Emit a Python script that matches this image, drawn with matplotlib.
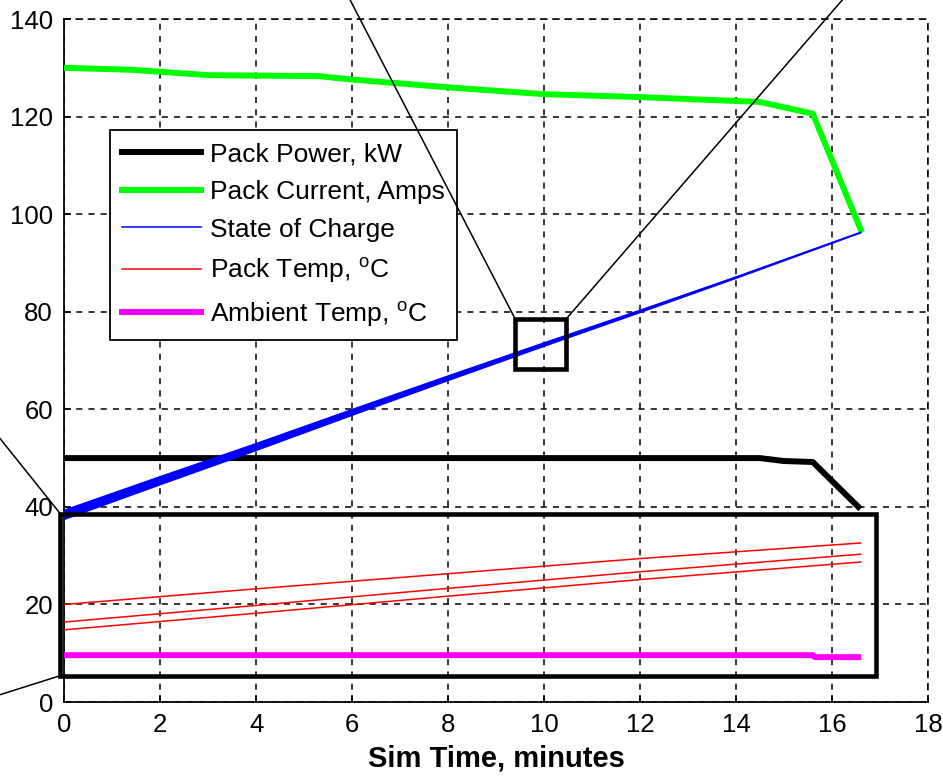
import numpy as np
import matplotlib
matplotlib.use("Agg")
import matplotlib.pyplot as plt
from matplotlib.patches import Rectangle
from matplotlib.lines import Line2D

plt.rcParams['font.family'] = ['Liberation Sans', 'DejaVu Sans']
plt.rcParams['mathtext.fontset'] = 'custom'
plt.rcParams['mathtext.rm'] = 'Liberation Sans'

# ---- data ----
power_t = [0, 14.5, 15.0, 15.6, 16.55]
power_kw = [50, 50, 49.4, 49.2, 40]

current_t = [0, 1.4, 3.0, 5.3, 6.0, 8.0, 10.0, 12.0, 14.0, 14.5, 15.6, 16.6]
current_a = [130, 129.6, 128.5, 128.3, 127.6, 126.0, 124.6, 124.0, 123.2, 123.0, 120.6, 96.8]

soc_t = [0, 2, 4, 6, 8, 10, 12, 14, 16.6]
soc_pct = [38.5, 45.5, 52.4, 59.5, 66.5, 73.4, 80.2, 87.1, 96.3]

temp_t = [0, 4, 8, 12, 16.6]
temp_hi = [20.0, 23.2, 26.3, 29.4, 32.6]
temp_mid = [16.4, 19.8, 23.3, 26.7, 30.3]
temp_lo = [14.8, 18.2, 21.7, 25.1, 28.7]

ambient_t = [0, 15.6, 15.65, 16.55]
ambient_c = [9.6, 9.6, 9.2, 9.2]

fig = plt.figure(figsize=(9.43, 7.77), dpi=100)
ax = fig.add_axes([0.068, 0.0965, 0.916, 0.879])

ax.plot(power_t, power_kw, color='black', lw=4.3, label='Pack Power, kW', zorder=3)
ax.plot(current_t, current_a, color='#00ff00', lw=4.3, label='Pack Current, Amps', zorder=3)

# SOC trace gets thinner towards the end
half = np.linspace(1.1, 0.15, len(soc_t))
ax.fill_between(soc_t, np.array(soc_pct) - half, np.array(soc_pct) + half,
                color='#0000ff', lw=0, zorder=3)
ax.plot(soc_t, soc_pct, color='#0000ff', lw=1.1, label='State of Charge', zorder=3)

ax.plot(temp_t, temp_hi, color='#ff0000', lw=1.1, label=r'Pack Temp, $^{\mathrm{o}}$C', zorder=3)
ax.plot(temp_t, temp_mid, color='#ff0000', lw=1.1, zorder=3)
ax.plot(temp_t, temp_lo, color='#ff0000', lw=1.1, zorder=3)
ax.plot(ambient_t, ambient_c, color='#ff00ff', lw=4.3, label=r'Ambient Temp, $^{\mathrm{o}}$C', zorder=3)

ax.set_xlim(0, 18)
ax.set_ylim(0, 140)
ax.set_xticks(range(0, 19, 2))
ax.set_yticks(range(0, 141, 20))
ax.grid(True, color='black', linestyle=(0, (4, 4)), lw=1.1)
ax.tick_params(direction='in', length=5, width=1.1, labelsize=18.5, pad=8,
               top=False, right=False)
for s in ['top', 'right']:
    ax.spines[s].set_linestyle((0, (4, 4)))
    ax.spines[s].set_linewidth(1.1)
for s in ['left', 'bottom']:
    ax.spines[s].set_linewidth(1.3)
ax.set_xlabel('Sim Time, minutes', fontsize=21, fontweight='bold', labelpad=5)

leg = ax.legend(loc='upper left', bbox_to_anchor=(0.053, 0.837), borderaxespad=0,
                fontsize=19, handlelength=3.0, handletextpad=0.35,
                labelspacing=0.52, fancybox=False, framealpha=1,
                borderpad=0.45)
leg.get_frame().set_edgecolor('black')
leg.get_frame().set_linewidth(1.3)
leg.set_zorder(4)

# zoom boxes and connector lines
ax.add_patch(Rectangle((-0.08, 5.4), 17.0, 33.2, fill=False, lw=3.3,
                       edgecolor='black', clip_on=False, zorder=6))
ax.add_patch(Rectangle((9.4, 68.2), 1.06, 10.3, fill=False, lw=3.3,
                       edgecolor='black', clip_on=False, zorder=6))
for xs, ys in [([9.4, 5.85], [78.5, 146]),
               ([10.46, 16.4], [78.5, 146]),
               ([-0.08, -1.4], [38.6, 54.8]),
               ([-0.08, -1.4], [5.4, 1.3])]:
    ax.add_line(Line2D(xs, ys, color='black', lw=1.1, clip_on=False, zorder=6))

fig.savefig('out.png', dpi=100)
